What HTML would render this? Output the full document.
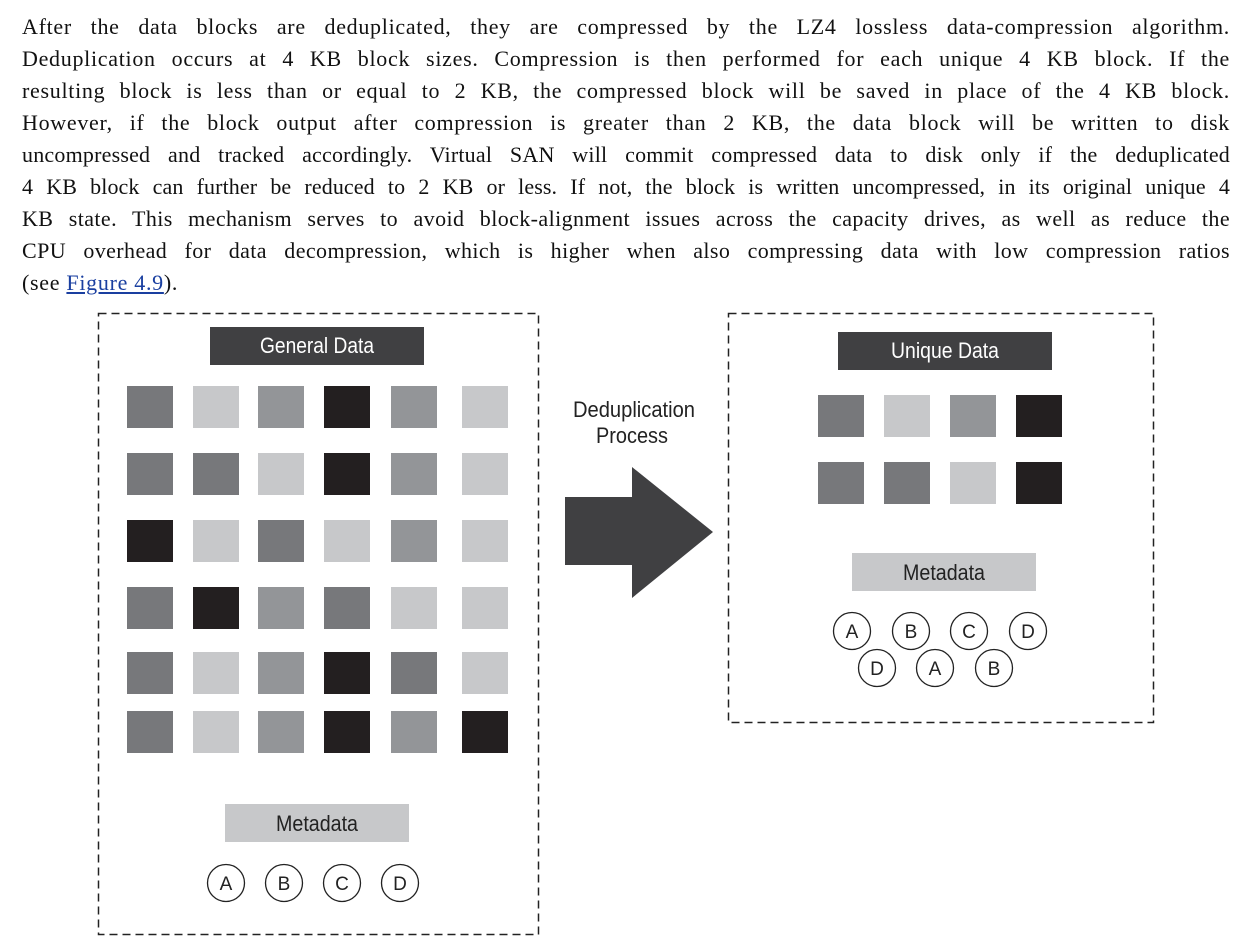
<!DOCTYPE html>
<html><head><meta charset="utf-8"><style>
body{margin:0;background:#fff;width:1239px;height:952px;overflow:hidden;position:relative}
.txt{position:absolute;left:22px;top:11px;width:1208px;font-family:"Liberation Serif",serif;font-size:22px;letter-spacing:0.7px;line-height:32px;color:#111}
.ln{text-align:justify;text-align-last:justify;white-space:nowrap;height:32px}
.ln.last{text-align-last:left}
a{color:#1a3fa0}
svg{position:absolute;left:0;top:0}
</style></head><body>
<div class="txt">
<div class="ln">After the data blocks are deduplicated, they are compressed by the LZ4 lossless data-compression algorithm.</div>
<div class="ln">Deduplication occurs at 4 KB block sizes. Compression is then performed for each unique 4 KB block. If the</div>
<div class="ln">resulting block is less than or equal to 2 KB, the compressed block will be saved in place of the 4 KB block.</div>
<div class="ln">However, if the block output after compression is greater than 2 KB, the data block will be written to disk</div>
<div class="ln" style="letter-spacing:0.2px">uncompressed and tracked accordingly. Virtual SAN will commit compressed data to disk only if the deduplicated</div>
<div class="ln" style="letter-spacing:0.1px">4 KB block can further be reduced to 2 KB or less. If not, the block is written uncompressed, in its original unique 4</div>
<div class="ln" style="letter-spacing:0.4px">KB state. This mechanism serves to avoid block-alignment issues across the capacity drives, as well as reduce the</div>
<div class="ln" style="letter-spacing:0.4px">CPU overhead for data decompression, which is higher when also compressing data with low compression ratios</div>
<div class="ln last">(see <a href="#fig">Figure 4.9</a>).</div>
</div>
<svg width="1239" height="952" font-family="Liberation Sans, sans-serif">
<rect x="98.5" y="313.5" width="440" height="621" fill="none" stroke="#222" stroke-width="1.5" stroke-dasharray="8,5"/>
<rect x="728.5" y="313.5" width="425" height="409" fill="none" stroke="#222" stroke-width="1.5" stroke-dasharray="8,5"/>
<rect x="210" y="327" width="214" height="38" fill="#404042"/>
<text x="317" y="353" fill="#fff" font-size="22" text-anchor="middle" textLength="114" lengthAdjust="spacingAndGlyphs">General Data</text>
<rect x="838" y="332" width="214" height="38" fill="#404042"/>
<text x="945" y="358" fill="#fff" font-size="22" text-anchor="middle" textLength="108" lengthAdjust="spacingAndGlyphs">Unique Data</text>
<g id="lgrid"></g>
<g id="rgrid"></g>
<rect x="225" y="804" width="184" height="38" fill="#c7c8ca"/>
<text x="317" y="831" fill="#222" font-size="22" text-anchor="middle" textLength="82" lengthAdjust="spacingAndGlyphs">Metadata</text>
<rect x="852" y="553" width="184" height="38" fill="#c7c8ca"/>
<text x="944" y="580" fill="#222" font-size="22" text-anchor="middle" textLength="82" lengthAdjust="spacingAndGlyphs">Metadata</text>
<g id="circ"></g>
<text x="634" y="417" fill="#222" font-size="22" text-anchor="middle" textLength="122" lengthAdjust="spacingAndGlyphs">Deduplication</text>
<text x="632" y="443" fill="#222" font-size="22" text-anchor="middle" textLength="72" lengthAdjust="spacingAndGlyphs">Process</text>
<polygon points="565,497 632,497 632,467 713,532 632,598 632,565 565,565" fill="#404042"/>
</svg>
<script>
const C={D:'#231f20',M:'#77787b',L:'#939598',P:'#c7c8ca'};
const leftRows=["MPLDLP","MMPDLP","DPMPLP","MDLMPP","MPLDMP","MPLDLD"];
const rightRows=["MPLD","MMPD"];
const lx=[127,193,258,324,391,462], ly=[386,453,520,587,652,711];
const rx=[818,884,950,1016], ry=[395,462];
const ns='http://www.w3.org/2000/svg';
function blk(g,x,y,c){const r=document.createElementNS(ns,'rect');r.setAttribute('x',x);r.setAttribute('y',y);r.setAttribute('width',46);r.setAttribute('height',42);r.setAttribute('fill',C[c]);


g.appendChild(r);}
const lg=document.getElementById('lgrid'),rg=document.getElementById('rgrid');
leftRows.forEach((row,i)=>[...row].forEach((c,j)=>blk(lg,lx[j],ly[i],c)));
rightRows.forEach((row,i)=>[...row].forEach((c,j)=>blk(rg,rx[j],ry[i],c)));
const circles=[[226,883,'A'],[284,883,'B'],[342,883,'C'],[400,883,'D'],[852,631,'A'],[911,631,'B'],[969,631,'C'],[1028,631,'D'],[877,668,'D'],[935,668,'A'],[994,668,'B']];
const cg=document.getElementById('circ');
circles.forEach(([x,y,t])=>{const c=document.createElementNS(ns,'circle');c.setAttribute('cx',x);c.setAttribute('cy',y);c.setAttribute('r',18.5);c.setAttribute('fill','#fff');c.setAttribute('stroke','#222');c.setAttribute('stroke-width','1.3');


cg.appendChild(c);const tx=document.createElementNS(ns,'text');tx.setAttribute('x',x);tx.setAttribute('y',y+7);tx.setAttribute('text-anchor','middle');tx.setAttribute('font-size','19');tx.setAttribute('fill','#222');tx.textContent=t;


cg.appendChild(tx);});
</script>
</body></html>
